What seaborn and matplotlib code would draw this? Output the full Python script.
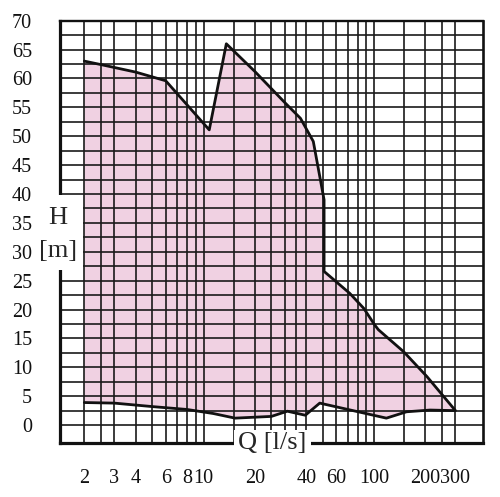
import matplotlib
matplotlib.use("Agg")
import matplotlib.pyplot as plt
import pandas as pd
import seaborn as sns
from matplotlib.patches import Rectangle
from matplotlib.ticker import NullFormatter

# Upper edge of the pump range, left to right (Q in l/s, H in m)
upper_q = [2, 2.5, 4, 6, 10.8, 13.6, 20, 30, 37, 44, 50.9, 50.9, 72, 87, 101, 106, 149, 204, 300]
upper_h = [63, 62.4, 61.1, 59.6, 51.1, 66, 61.2, 55.8, 53.1, 49.1, 39, 26.6, 22.8, 20.2, 17.3, 16.5, 12.7, 8.4, 2.5]

# Lower edge, left to right
lower_q = [2, 3, 5, 8, 11.4, 15.3, 25, 31, 39.5, 48, 118, 155, 213, 300]
lower_h = [3.9, 3.8, 3.2, 2.7, 2.0, 1.2, 1.5, 2.4, 1.7, 3.8, 1.2, 2.3, 2.6, 2.5]

# Axis ticks and extra grid lines
q_ticks = [2, 3, 4, 6, 8, 10, 20, 40, 60, 100, 200, 300]
q_grid = [2.5, 5, 7, 9, 15, 25, 30, 35, 50, 70, 80, 90, 150, 250]
h_ticks = [0, 5, 10, 15, 20, 25, 30, 35, 40, 45, 50, 55, 60, 65, 70]
h_grid = [2.5, 7.5, 12.5, 17.5, 22.5, 27.5, 32.5, 37.5, 42.5, 47.5, 52.5, 57.5, 62.5, 67.5]

sns.set_style("white")
plt.rcParams['font.family'] = ['Liberation Serif', 'DejaVu Serif']

fig = plt.figure(figsize=(5.0, 4.97), dpi=100)
ax = fig.add_axes([0.12, 0.1087, 0.846, 0.8497])
ax.set_xscale('log')

# Shaded operating area
poly_q = upper_q + lower_q[::-1]
poly_h = upper_h + lower_h[::-1]
ax.fill(poly_q, poly_h, color='#f0d1e2', lw=0, zorder=0.2)

# Outline (upper edge then back along the lower edge)
outline = pd.DataFrame({'q': upper_q + lower_q[::-1][1:], 'h': upper_h + lower_h[::-1][1:]})
sns.lineplot(data=outline, x='q', y='h', sort=False, estimator=None,
             color='#111111', lw=2.0, ax=ax, zorder=3)

ax.set_xlim(1.44, 435)
ax.set_ylim(-3.1, 70)

ax.set_xticks(q_ticks)
ax.set_xticklabels([str(v) for v in q_ticks])
ax.set_xticks(q_grid, minor=True)
ax.xaxis.set_minor_formatter(NullFormatter())
ax.set_yticks(h_ticks)
ax.set_yticks(h_grid, minor=True)

ax.set_axisbelow(True)
ax.grid(which='both', color='#1a1a1a', lw=1.2)
ax.tick_params(which='both', length=0, labelsize=14.5, colors='#111111')
ax.tick_params(axis='x', pad=19)
ax.tick_params(axis='y', pad=20)
ax.set_xlabel('')
ax.set_ylabel('')

for side, w in (('left', 2.3), ('bottom', 2.3), ('top', 1.7), ('right', 1.9)):
    ax.spines[side].set_visible(True)
    ax.spines[side].set_color('#111111')
    ax.spines[side].set_linewidth(w)

# White boxes behind the axis titles
ax.add_patch(Rectangle((1.15, 26.9), 1.97 - 1.15, 39.8 - 26.9, facecolor='white',
                       edgecolor='none', clip_on=False, zorder=4))
ax.add_patch(Rectangle((15.0, -6), 42.5 - 15.0, 6 - 0.9, facecolor='white',
                       edgecolor='none', clip_on=False, zorder=4))

ax.text(1.40, 35.9, 'H', ha='center', va='center', fontsize=19, zorder=5, clip_on=False)
ax.text(1.40, 30.2, '[m]', ha='center', va='center', fontsize=19, zorder=5, clip_on=False)
ax.text(25.2, -3.1, 'Q [l/s]', ha='center', va='center', fontsize=19, zorder=5, clip_on=False)

fig.savefig('out.png', dpi=100)
